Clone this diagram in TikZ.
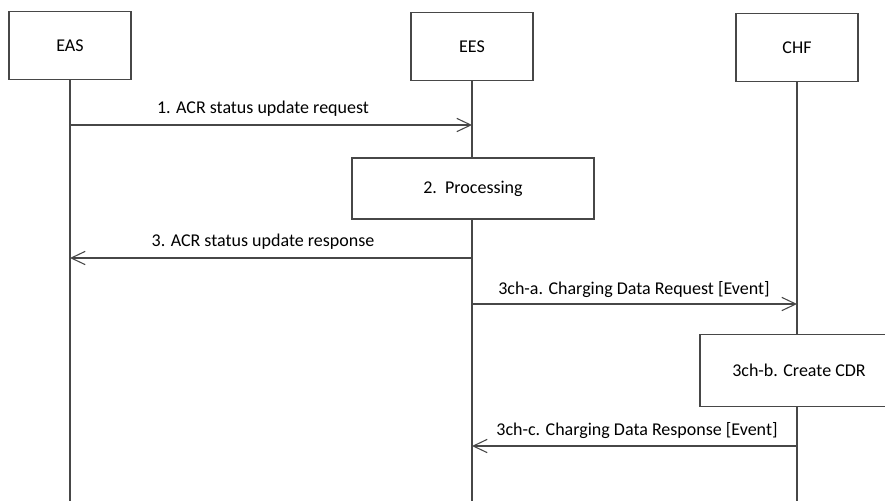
\documentclass[tikz,border=0pt]{standalone}
\usepackage{fontspec}
\setmainfont{Carlito}
\usetikzlibrary{arrows.meta}
\begin{document}
\begin{tikzpicture}[x=0.75pt,y=-0.75pt,
  ln/.style={draw=black!72,line width=0.8pt},
  actor/.style={ln,fill=white,minimum width=91.5pt,minimum height=51.5pt,inner sep=0pt,font=\fontsize{13.5}{16}\selectfont},
  procbox/.style={ln,fill=white,inner sep=0pt,font=\fontsize{13.5}{16}\selectfont},
  msg/.style={ln,-{Straight Barb[length=10.5pt,width=10pt,line width=0.8pt]}},
  lbl/.style={font=\fontsize{13.5}{16}\selectfont,inner sep=0pt}]
\useasboundingbox (0,0) rectangle (885,501);
% actors
\node[actor] (eas) at (70,45.5) {EAS};
\node[actor] (ees) at (472,46.5) {EES};
\node[actor] (chf) at (797,47.5) {CHF};
% lifeline ends
\coordinate (easend) at (70,501);
\coordinate (eesend) at (472,501);
\coordinate (chfend) at (797,501);
\draw[ln] (eas.south) -- (easend);
\draw[ln] (ees.south) -- (eesend);
\draw[ln] (chf.south) -- (chfend);
% boxes
\node[procbox,minimum width=181.5pt,minimum height=45.75pt] (proc) at (473,188.5) {2.\ \ Processing};
\node[procbox,minimum width=148.5pt,minimum height=54.5pt] (cdr) at (799,370.5) {3ch-b. Create CDR};
% message anchor points
\coordinate (m1s) at (70,125);
\coordinate (m1e) at (472,125);
\coordinate (m3s) at (472,258);
\coordinate (m3e) at (70,258);
\coordinate (mas) at (472,304);
\coordinate (mae) at (797,304);
\coordinate (mcs) at (797,446);
\coordinate (mce) at (472,446);
\draw[msg] (m1s) -- (m1e);
\draw[msg] (m3s) -- (m3e);
\draw[msg] (mas) -- (mae);
\draw[msg] (mcs) -- (mce);
% labels
\node[lbl] (l1) at (263,109) {1. ACR status update request};
\node[lbl] (l3) at (263,242) {3. ACR status update response};
\node[lbl] (la) at (634,290) {3ch-a. Charging Data Request [Event]};
\node[lbl] (lc) at (637,431) {3ch-c. Charging Data Response [Event]};
\end{tikzpicture}
\end{document}
